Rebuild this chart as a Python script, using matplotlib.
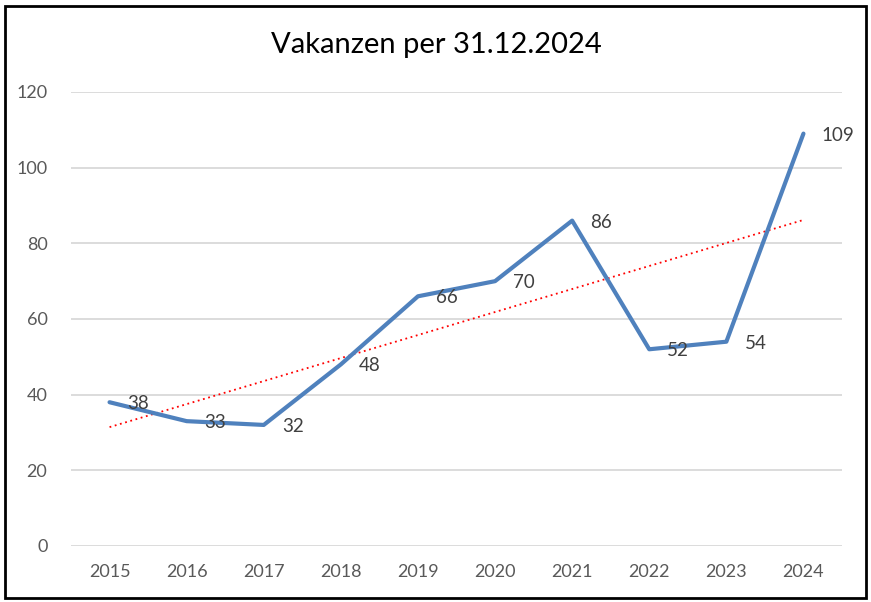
import numpy as np
import matplotlib.pyplot as plt
from matplotlib.patches import Rectangle

years = ['2015', '2016', '2017', '2018', '2019', '2020', '2021', '2022', '2023', '2024']
vakanzen = [38, 33, 32, 48, 66, 70, 86, 52, 54, 109]
yticks = [0, 20, 40, 60, 80, 100, 120]

plt.rcParams['font.family'] = ['Lato', 'DejaVu Sans']

fig = plt.figure(figsize=(8.71, 6.02), dpi=100)
ax = fig.add_axes([71/871, 1-546/602, (842-71)/871, (546-92)/602])

x = np.arange(len(years))
ax.plot(x, vakanzen, color='#4F81BD', lw=3.0, solid_capstyle='round',
        solid_joinstyle='round', zorder=3)

# linearer Trend
k, d = np.polyfit(x, vakanzen, 1)
ax.plot(x, k*x + d, color='red', lw=1.3, ls=(0, (1, 2)), zorder=2)

for xi, v in zip(x, vakanzen):
    ax.annotate(str(v), (xi, v), xytext=(13, -1), textcoords='offset points',
                ha='left', va='center', fontsize=13.5, color='#404040', zorder=4)

ax.set_xlim(-0.5, len(years)-0.5)
ax.set_ylim(0, 120)
ax.set_yticks(yticks)
ax.set_xticks(x)
ax.set_xticklabels(years)
ax.grid(axis='y', color='#D9D9D9', lw=1.3)
ax.set_axisbelow(True)
for s in ax.spines.values():
    s.set_visible(False)
ax.tick_params(length=0, labelsize=13, labelcolor='#595959')
ax.tick_params(axis='y', pad=17)
ax.tick_params(axis='x', pad=13)

fig.text(436/871, 1-45/602, 'Vakanzen per 31.12.2024', ha='center', va='center',
         fontsize=21, color='black')

fig.patches.append(Rectangle((5/871, 1-598/602), (866-5)/871, (598-6)/602,
                             transform=fig.transFigure, fill=False,
                             edgecolor='black', lw=2))

fig.savefig('out.png', dpi=100)
